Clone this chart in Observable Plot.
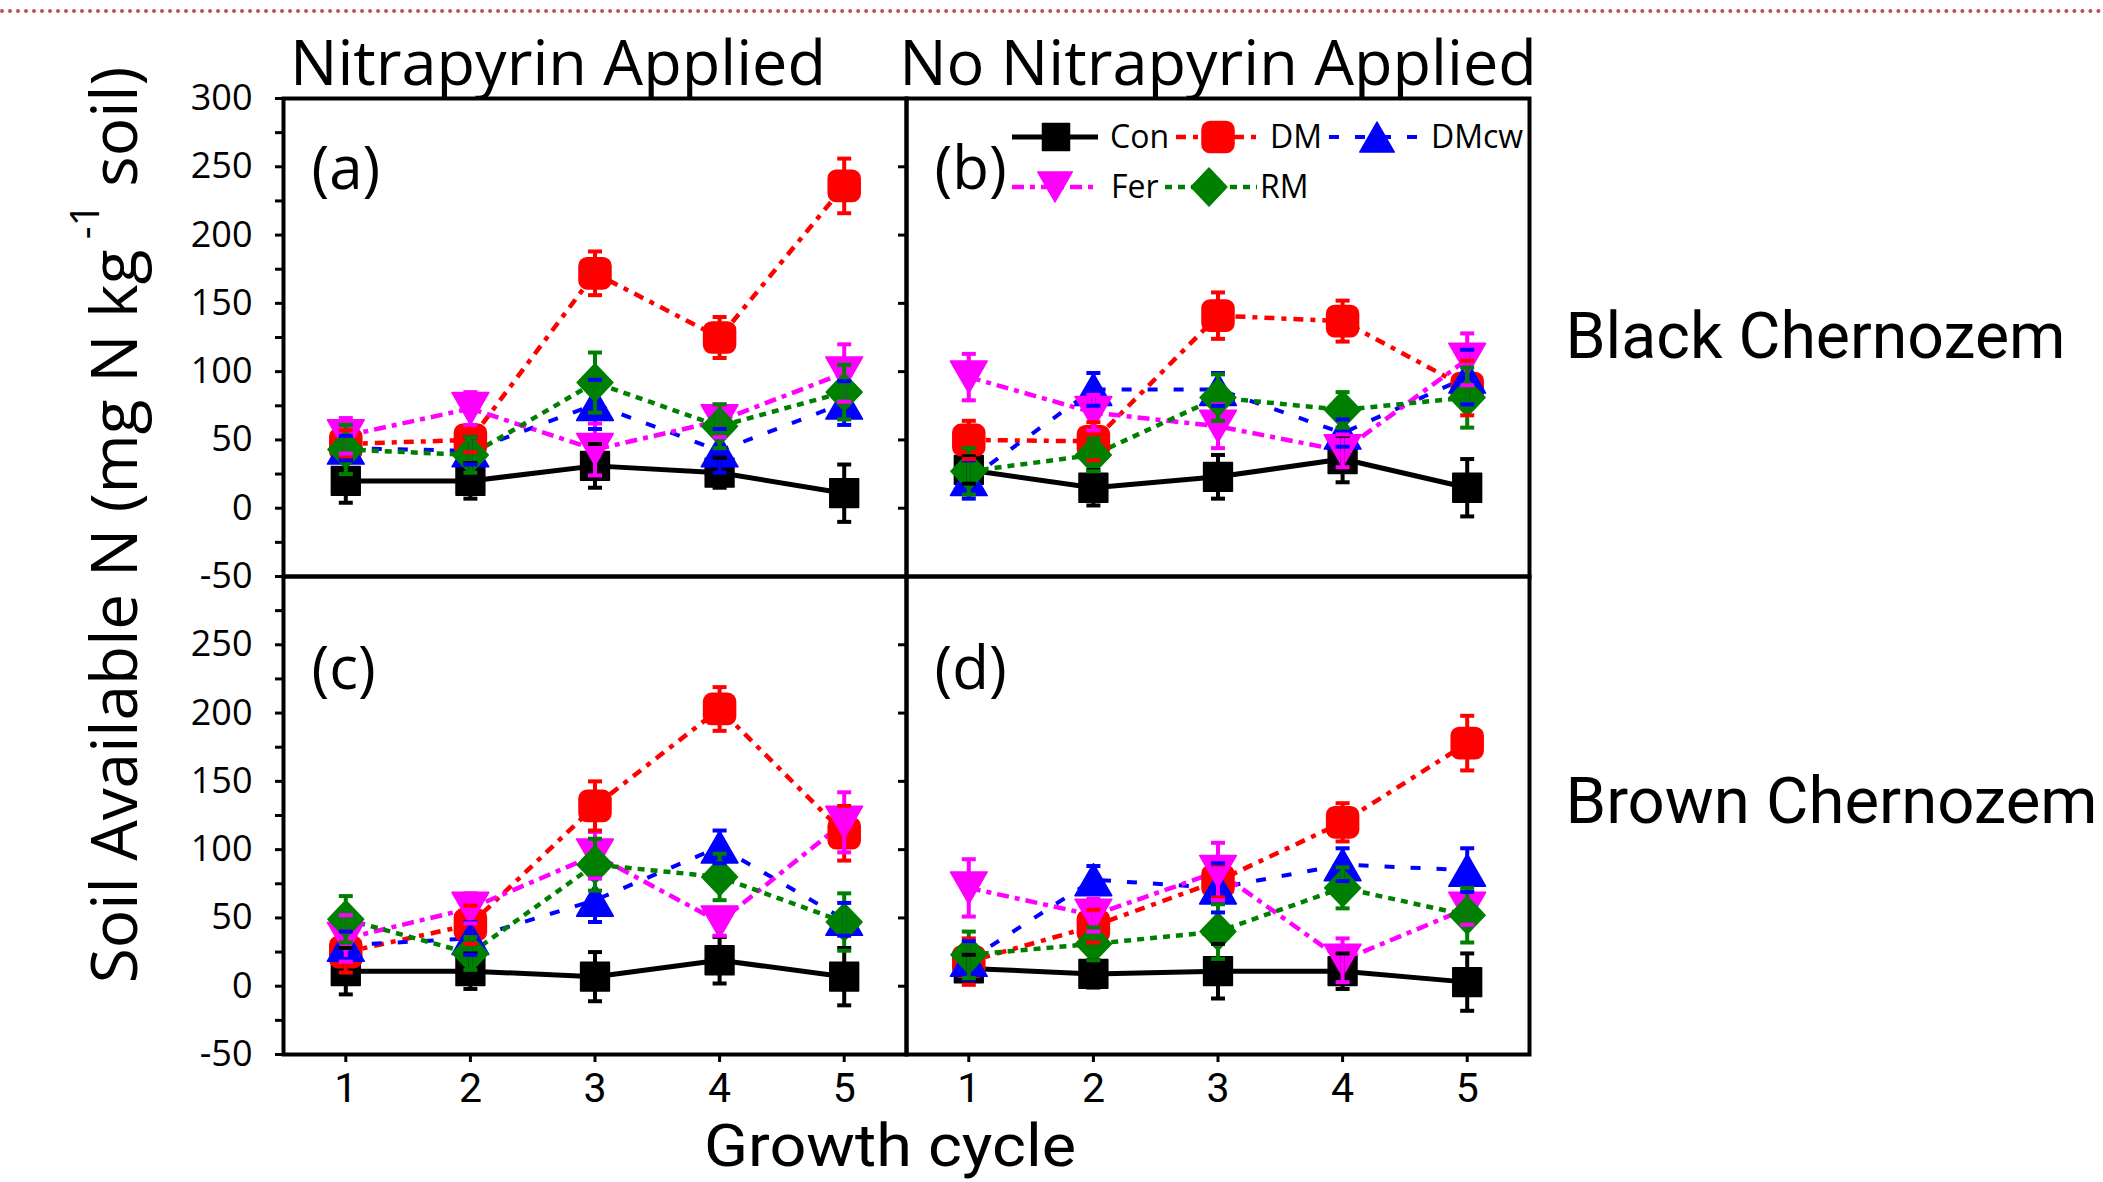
<!DOCTYPE html>
<html>
<head>
<meta charset="utf-8">
<script src="https://cdn.jsdelivr.net/npm/d3@7"></script>
<script src="https://cdn.jsdelivr.net/npm/@observablehq/plot@0.6"></script>
<style>
  body { margin: 0; background: #ffffff; }
  #wrap { position: relative; width: 2103px; height: 1182px; overflow: hidden; background: #ffffff; }
  #pageborder { position: absolute; left: 0; top: 9px; width: 2103px; border-top: 4px dotted #c0504d; }
  #chart { position: absolute; left: 0; top: 0; }
</style>
</head>
<body>
<div id="wrap"><div id="pageborder"></div><div id="chart"></div></div>
<script>
// ---------- data ----------
const cycles = [1, 2, 3, 4, 5];
const treatments = ["Con", "DM", "DMcw", "Fer", "RM"];
const nitrapyrin = ["Nitrapyrin Applied", "No Nitrapyrin Applied"];
const soils = ["Black Chernozem", "Brown Chernozem"];
const panelLetters = ["(a)", "(b)", "(c)", "(d)"];
const yTicksTop = [-50, 0, 50, 100, 150, 200, 250, 300];
const yTicksBottom = [-50, 0, 50, 100, 150, 200, 250];
const yMajorTicks = [-50, 0, 50, 100, 150, 200, 250, 300];
const yMinorTicks = [-25, 25, 75, 125, 175, 225, 275];

// rows: Con, DM, DMcw, Fer, RM ; columns: growth cycle 1..5
// (a) Black Chernozem, Nitrapyrin Applied
const valuesA = [
  [20, 20, 31, 26, 11],
  [47, 50, 172, 125, 236],
  [44, 42, 76, 42, 77],
  [53, 73, 43, 64, 99],
  [43, 39, 92, 60, 85]
];
const errorsA = [
  [16, 13, 16, 11, 21],
  [10, 9, 16, 15, 20],
  [9, 10, 18, 16, 16],
  [13, 12, 19, 12, 21],
  [18, 13, 22, 16, 20]
];
// (b) Black Chernozem, No Nitrapyrin Applied
const valuesB = [
  [28, 15, 23, 36, 15],
  [50, 49, 141, 137, 88],
  [21, 87, 87, 55, 96],
  [96, 70, 60, 42, 109],
  [27, 39, 81, 72, 81]
];
const errorsB = [
  [10, 13, 16, 17, 21],
  [14, 14, 17, 15, 20],
  [14, 12, 12, 10, 20],
  [17, 13, 16, 12, 19],
  [17, 12, 17, 13, 22]
];
// (c) Brown Chernozem, Nitrapyrin Applied
const valuesC = [
  [11, 11, 7, 19, 7],
  [25, 45, 132, 203, 112],
  [30, 35, 63, 102, 49],
  [35, 57, 96, 47, 120],
  [49, 24, 89, 80, 47]
];
const errorsC = [
  [17, 13, 18, 17, 21],
  [15, 14, 18, 16, 20],
  [10, 12, 16, 12, 12],
  [17, 11, 17, 10, 22],
  [17, 12, 19, 17, 21]
];
// (d) Brown Chernozem, No Nitrapyrin Applied
const valuesD = [
  [13, 9, 11, 11, 3],
  [18, 44, 77, 120, 178],
  [19, 78, 72, 89, 85],
  [72, 52, 84, 19, 57],
  [23, 31, 40, 72, 52]
];
const errorsD = [
  [10, 10, 20, 13, 21],
  [17, 12, 12, 14, 20],
  [14, 10, 18, 12, 16],
  [21, 12, 21, 16, 12],
  [17, 12, 20, 15, 20]
];

// ---------- styles ----------
const seriesColors = ["#000000", "#ff0000", "#0000ff", "#ff00ff", "#008000"];
const seriesDash = [null, "10,7,5,7", "10,16", "12,6,5,6", "7,6"];
const seriesWidth = [5, 4.5, 4, 4.5, 4.5];

function rOf(size) { return Math.sqrt(size / Math.PI); }
const symSquare = { draw(c, size) { const r = rOf(size), s = 1.8 * r; c.rect(-s / 2, -s / 2, s, s); } };
const symRound = { draw(c, size) {
  const r = rOf(size), w = 2 * r, h = 1.95 * r, k = 0.5 * r;
  const x0 = -w / 2, x1 = w / 2, y0 = -h / 2, y1 = h / 2;
  c.moveTo(x0 + k, y0); c.lineTo(x1 - k, y0); c.arcTo(x1, y0, x1, y0 + k, k);
  c.lineTo(x1, y1 - k); c.arcTo(x1, y1, x1 - k, y1, k);
  c.lineTo(x0 + k, y1); c.arcTo(x0, y1, x0, y1 - k, k);
  c.lineTo(x0, y0 + k); c.arcTo(x0, y0, x0 + k, y0, k); c.closePath();
} };
const symUp = { draw(c, size) { const r = rOf(size), w = 2.3 * r, h = 2 * r;
  c.moveTo(0, -h / 2); c.lineTo(w / 2, h / 2); c.lineTo(-w / 2, h / 2); c.closePath(); } };
const symDown = { draw(c, size) { const r = rOf(size), w = 2.3 * r, h = 2 * r;
  c.moveTo(0, h / 2); c.lineTo(w / 2, -h / 2); c.lineTo(-w / 2, -h / 2); c.closePath(); } };
const symDiamond = { draw(c, size) { const r = rOf(size), a = 1.12 * r, b = 1.18 * r;
  c.moveTo(0, -b); c.lineTo(a, 0); c.lineTo(0, b); c.lineTo(-a, 0); c.closePath(); } };
const symCap = { draw(c, size) { const r = rOf(size); c.moveTo(-r, 0); c.lineTo(r, 0); } };
const seriesSymbols = [symSquare, symRound, symUp, symDown, symDiamond];

// ---------- tables ----------
const panels = [
  { nitra: nitrapyrin[0], soil: soils[0], letter: panelLetters[0], values: valuesA, errors: errorsA },
  { nitra: nitrapyrin[1], soil: soils[0], letter: panelLetters[1], values: valuesB, errors: errorsB },
  { nitra: nitrapyrin[0], soil: soils[1], letter: panelLetters[2], values: valuesC, errors: errorsC },
  { nitra: nitrapyrin[1], soil: soils[1], letter: panelLetters[3], values: valuesD, errors: errorsD }
];
const rows = [];
panels.forEach(p => treatments.forEach((t, i) => cycles.forEach((c, j) => {
  rows.push({ nitra: p.nitra, soil: p.soil, treatment: t, cycle: c, value: p.values[i][j], err: p.errors[i][j] });
})));
const yTickRows = [
  ...yTicksTop.map(v => ({ nitra: nitrapyrin[0], soil: soils[0], v })),
  ...yTicksBottom.map(v => ({ nitra: nitrapyrin[0], soil: soils[1], v }))
];

const facet = { fx: "nitra", fy: "soil" };
const lineMarks = treatments.map((t, i) => Plot.line(rows.filter(d => d.treatment === t), {
  ...facet, x: "cycle", y: "value", stroke: seriesColors[i], strokeWidth: seriesWidth[i],
  strokeDasharray: seriesDash[i] || undefined, strokeLinecap: "butt", strokeLinejoin: "round"
}));
const dotMarks = treatments.map((t, i) => Plot.dot(rows.filter(d => d.treatment === t), {
  ...facet, x: "cycle", y: "value", symbol: seriesSymbols[i], r: 16,
  fill: seriesColors[i], stroke: seriesColors[i], strokeWidth: 1.5, strokeLinejoin: "round"
}));

const chart = Plot.plot({
  width: 2103, height: 1182,
  marginTop: 97, marginRight: 574, marginBottom: 128, marginLeft: 283,
  style: { fontFamily: "'Open Sans', sans-serif", background: "transparent", color: "black", overflow: "visible" },
  x: { domain: [0.5, 5.5] },
  y: { domain: [-50, 300] },
  fx: { domain: nitrapyrin, padding: 0 },
  fy: { domain: soils, padding: 0 },
  color: { domain: treatments, range: seriesColors },
  marks: [
    Plot.axisFx({ anchor: "top", tickSize: 0, tickPadding: 14, fontSize: 63, label: null }),
    Plot.axisFy({ anchor: "right", tickSize: 0, tickPadding: 36, fontSize: 65, label: null,
      textAnchor: "start", fontFamily: "Roboto, sans-serif" }),
    Plot.axisX({ ticks: cycles, tickFormat: d => String(d), tickSize: 8, tickPadding: 10, fontSize: 41,
      label: null, strokeWidth: 3, fontFamily: "Roboto, sans-serif" }),
    Plot.axisY({ ticks: yMajorTicks, tickSize: 8, tickFormat: () => "", label: null, strokeWidth: 3, facetAnchor: null }),
    Plot.axisY({ ticks: yMinorTicks, tickSize: 8, tickFormat: () => "", label: null, strokeWidth: 3 }),
    Plot.text(yTickRows, { ...facet, y: "v", text: d => String(d.v), frameAnchor: "left",
      textAnchor: "end", dx: -31, fontSize: 36, letterSpacing: "2px" }),
    ...lineMarks,
    ...dotMarks,
    Plot.ruleX(rows, { ...facet, x: "cycle", y1: d => d.value - d.err, y2: d => d.value + d.err,
      stroke: "treatment", strokeWidth: 4 }),
    Plot.dot(rows, { ...facet, x: "cycle", y: d => d.value + d.err, symbol: symCap, r: 7,
      stroke: "treatment", fill: "none", strokeWidth: 4 }),
    Plot.dot(rows, { ...facet, x: "cycle", y: d => d.value - d.err, symbol: symCap, r: 7,
      stroke: "treatment", fill: "none", strokeWidth: 4 }),
    Plot.frame({ stroke: "black", strokeWidth: 4 }),
    Plot.text(panels.filter(p => p.soil === soils[0]), { ...facet, text: "letter", frameAnchor: "top-left",
      textAnchor: "start", lineAnchor: "top", dx: 28, dy: 48, fontSize: 60 }),
    Plot.text(panels.filter(p => p.soil === soils[1]), { ...facet, text: "letter", frameAnchor: "top-left",
      textAnchor: "start", lineAnchor: "top", dx: 28, dy: 70, fontSize: 60 })
  ]
});

// row labels: match the reference's widths and placement
const rowLabelWidths = [500, 532];
chart.querySelectorAll('g[aria-label="fy-axis tick label"] text').forEach((t, i) => {
  t.setAttribute("textLength", rowLabelWidths[i] || 500);
  t.setAttribute("lengthAdjust", "spacingAndGlyphs");
  if (i === 1) t.setAttribute("transform", "translate(0,-13) " + (t.getAttribute("transform") || ""));
});
// column titles: first one sits a little left of its column centre in the reference
chart.querySelectorAll('g[aria-label="fx-axis tick label"] text').forEach((t, i) => {
  if (i === 0) t.setAttribute("transform", "translate(-37,0) " + (t.getAttribute("transform") || ""));
});

const svg = d3.select(chart);
// y axis title with superscript
const yl = svg.append("text")
  .attr("transform", "translate(137,525) rotate(-90)")
  .attr("text-anchor", "middle")
  .attr("font-family", "'Open Sans', sans-serif")
  .attr("font-size", 64)
  .attr("fill", "black");
yl.append("tspan").text("Soil Available N (mg N kg");
yl.append("tspan").attr("font-size", 40).attr("dy", -38).text(" -1");
yl.append("tspan").attr("dy", 38).text(" soil)");

// x axis title
svg.append("text")
  .attr("x", 890).attr("y", 1166)
  .attr("text-anchor", "middle")
  .attr("font-family", "Roboto, sans-serif")
  .attr("font-size", 59)
  .attr("textLength", 372)
  .attr("lengthAdjust", "spacingAndGlyphs")
  .attr("fill", "black")
  .text("Growth cycle");

// legend inside panel (b)
const legendItems = [
  { i: 0, y: 137, x1: 1012, x2: 1098, mx: 1056, tx: 1110, r: 15 },
  { i: 1, y: 137, x1: 1176, x2: 1258, mx: 1218, tx: 1270, r: 16 },
  { i: 2, y: 137, x1: 1329, x2: 1419, mx: 1377, tx: 1431, r: 15 },
  { i: 3, y: 187, x1: 1012, x2: 1098, mx: 1055, tx: 1111, r: 15 },
  { i: 4, y: 187, x1: 1165, x2: 1257, mx: 1209, tx: 1260, r: 16 }
];
const lg = svg.append("g").attr("aria-label", "legend");
legendItems.forEach(it => {
  lg.append("line").attr("x1", it.x1).attr("x2", it.x2).attr("y1", it.y).attr("y2", it.y)
    .attr("stroke", seriesColors[it.i]).attr("stroke-width", seriesWidth[it.i])
    .attr("stroke-dasharray", seriesDash[it.i] || null);
  lg.append("path").attr("transform", `translate(${it.mx},${it.y})`)
    .attr("d", d3.symbol(seriesSymbols[it.i], Math.PI * it.r * it.r)())
    .attr("fill", seriesColors[it.i]).attr("stroke", seriesColors[it.i]).attr("stroke-width", 1.5)
    .attr("stroke-linejoin", "round");
  lg.append("text").attr("x", it.tx).attr("y", it.y + 11)
    .attr("text-anchor", "start")
    .attr("font-family", "'Open Sans', sans-serif").attr("font-size", 32).attr("fill", "black")
    .text(treatments[it.i]);
});

document.getElementById("chart").appendChild(chart);
</script>
</body>
</html>
